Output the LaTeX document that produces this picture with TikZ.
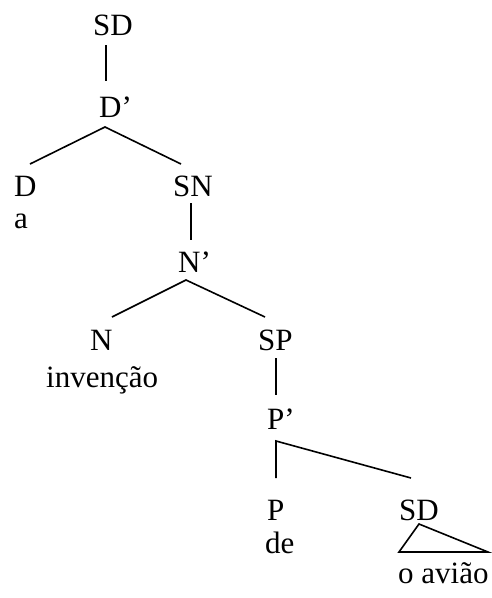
\documentclass[tikz,border=0pt]{standalone}
\usepackage{fontspec}
\setmainfont{Liberation Serif}
\begin{document}
\begin{tikzpicture}[x=1pt,y=1pt,
  lab/.style={anchor=base west,inner sep=0pt,font=\fontsize{31}{37}\selectfont},
  edge/.style={line width=1.6pt}]
\useasboundingbox (0,0) rectangle (491,-598);
% labels
\node[lab] (sdtop) at (93,-35) {SD};
\node[lab] (dbar) at (99,-117) {D’};
\node[lab] (d) at (14,-196) {D};
\node[lab] (a) at (14,-228) {a};
\node[lab] (sn) at (173,-196) {SN};
\node[lab] (nbar) at (178,-272) {N’};
\node[lab] (n) at (90,-350) {N};
\node[lab] (inv) at (46,-387) {invenção};
\node[lab] (sp) at (258,-350) {SP};
\node[lab] (pbar) at (267,-429) {P’};
\node[lab] (p) at (267,-520) {P};
\node[lab] (de) at (265,-553) {de};
\node[lab] (sdlow) at (399,-520) {SD};
\node[lab] (oaviao) at (398,-583) {o avião};
% connector ends
\coordinate (c1) at (106,-45);
\coordinate (c2) at (106,-81);
\coordinate (c3) at (105,-127);
\coordinate (c4) at (30,-164);
\coordinate (c5) at (181,-164);
\coordinate (c6) at (191,-203);
\coordinate (c7) at (191,-240);
\coordinate (c8) at (186,-280);
\coordinate (c9) at (112,-317);
\coordinate (c10) at (265,-317);
\coordinate (c11) at (276,-358);
\coordinate (c12) at (276,-395);
\coordinate (c13) at (276,-441);
\coordinate (c14) at (276,-478);
\coordinate (c15) at (411,-478);
\coordinate (t1) at (419,-524);
\coordinate (t2) at (399,-552);
\coordinate (t3) at (488,-552);
% edges
\draw[edge] (c1) -- (c2);
\draw[edge] (c4) -- (c3) -- (c5);
\draw[edge] (c6) -- (c7);
\draw[edge] (c9) -- (c8) -- (c10);
\draw[edge] (c11) -- (c12);
\draw[edge] (c14) -- (c13) -- (c15);
\draw[edge,line join=miter] (t1) -- (t2) -- (t3) -- cycle;
\end{tikzpicture}
\end{document}
